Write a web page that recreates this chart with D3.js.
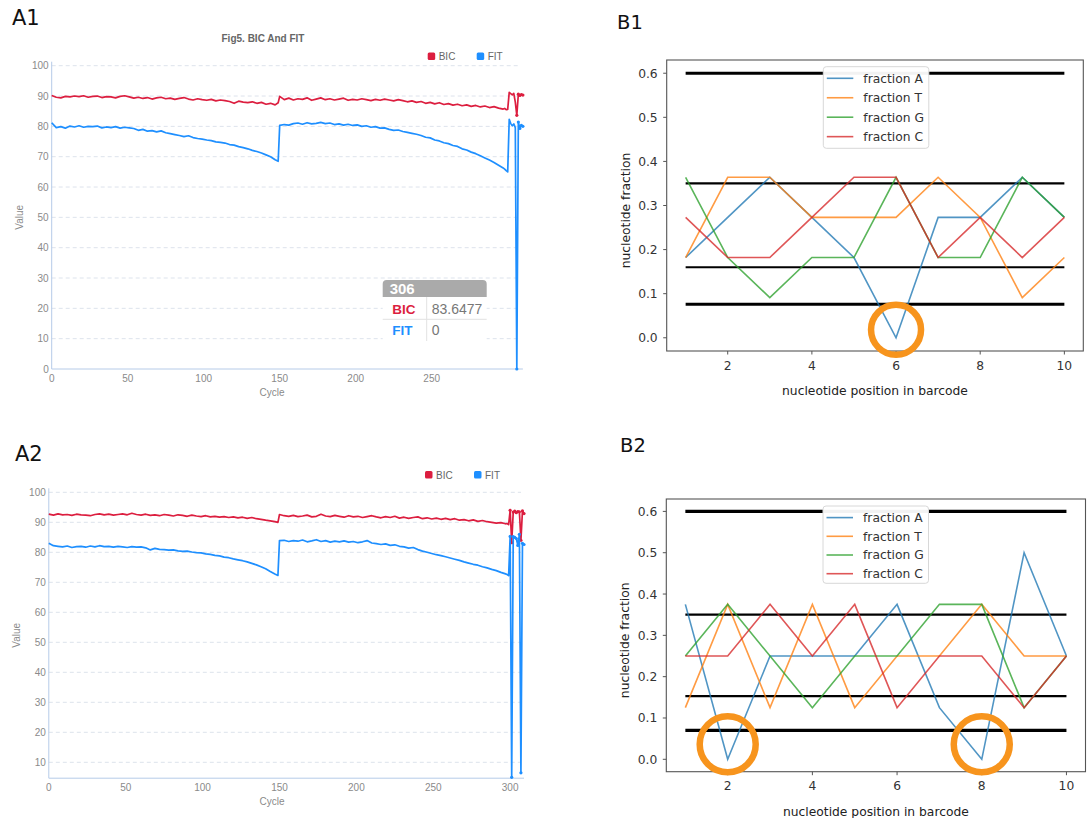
<!DOCTYPE html>
<html>
<head>
<meta charset="utf-8">
<script src="https://cdn.jsdelivr.net/npm/d3@7"></script>
<style>
  body { margin: 0; background: #fff; }
  svg { display: block; }
  .ech text { font-family: "Liberation Sans", Arial, sans-serif; }
  .mpl text { font-family: "DejaVu Sans", sans-serif; }
</style>
</head>
<body>
<div id="chart"></div>
<script>
// ---------- data: A panels (BIC / FIT per cycle) ----------
// cycles sampled every 3, plus the step at 149 and every cycle of the tail
const a1Cycles = [...d3.range(0, 148, 3), 149, ...d3.range(150, 298, 3), ...d3.range(298, 311)]
const a2Cycles = [...d3.range(0, 148, 3), 149, ...d3.range(150, 298, 3), ...d3.range(298, 310)]

const a1Bic = [
  90.2,89.6,89.4,89.9,89.7,90.0,89.8,90.1,89.6,89.9,
  90.0,89.5,89.8,89.7,89.4,89.9,90.1,89.7,89.3,89.6,
  89.2,89.5,89.0,89.4,89.6,89.1,89.3,88.9,89.2,89.5,
  89.0,88.7,89.1,88.8,88.6,88.9,88.4,88.7,88.5,88.2,
  87.6,88.3,88.0,87.8,88.1,87.6,87.9,87.3,87.6,87.1,
  87.8,
  89.9,88.8,89.3,88.7,89.1,88.9,89.4,88.6,89.0,89.4,
  88.8,89.1,88.7,89.0,89.3,88.6,88.9,88.7,89.1,88.8,
  88.5,88.9,88.6,89.0,88.7,88.4,88.8,88.5,88.1,88.4,
  87.9,88.2,87.6,87.9,87.4,87.8,87.2,87.5,87.0,87.3,
  86.8,87.1,86.6,86.9,86.4,86.7,86.2,86.5,86.0,85.7,
  85.9,85.5,85.6,91.2,90.8,90.4,90.9,88.0,83.6477,90.6,90.2,90.5,90.3
]
const a1Fit = [
  81.2,79.6,79.9,79.4,80.1,79.8,80.2,79.7,80.0,79.9,
  80.1,79.5,79.8,79.6,79.9,79.4,79.7,79.5,79.3,78.7,
  79.0,78.4,78.6,78.2,78.5,77.9,77.6,77.3,77.0,76.6,
  76.9,76.3,76.0,75.8,75.5,75.3,74.9,74.7,74.5,74.0,
  73.8,73.3,73.0,72.6,72.1,71.7,71.2,70.6,70.0,69.0,
  68.5,
  80.3,80.6,80.4,80.9,81.1,80.7,81.2,80.8,81.0,81.3,
  80.9,81.1,80.6,80.8,80.4,80.7,80.3,80.5,80.0,80.2,
  79.7,79.9,79.4,79.5,79.0,78.7,78.8,78.3,78.0,77.7,
  77.4,77.0,76.4,76.2,75.5,75.2,74.6,74.3,73.7,73.4,
  72.6,72.2,71.5,71.0,70.3,69.6,68.9,68.1,67.2,66.3,
  65.9,65.4,65.0,82.3,80.9,80.2,80.8,79.6,0,81.4,79.3,80.3,80.0
]
const a2Bic = [
  92.7,92.4,92.8,92.5,92.6,92.3,92.7,92.5,92.4,92.2,
  92.6,92.8,92.5,92.7,92.4,92.6,92.8,92.5,93.0,92.6,
  92.4,92.7,92.3,92.5,92.2,92.6,92.4,92.1,92.5,92.3,
  92.0,92.4,92.1,91.9,92.2,91.8,92.0,91.7,91.9,91.6,
  91.8,91.5,91.7,91.3,91.6,91.2,91.0,90.7,90.5,90.2,
  90.0,
  92.6,92.2,92.0,92.3,91.9,92.1,92.4,91.8,92.0,92.7,
  92.1,91.9,92.3,92.0,91.7,92.2,91.8,92.0,91.6,91.9,
  92.2,91.8,91.5,91.9,91.6,92.0,91.4,91.7,91.3,91.6,
  91.8,91.2,91.5,91.1,91.4,91.0,91.3,90.9,91.2,90.7,
  90.9,90.5,90.8,90.3,90.6,90.2,90.0,89.7,89.9,89.5,
  89.6,89.2,94.0,83.2,93.4,93.7,93.2,93.6,93.5,84.0,93.8,92.9
]
const a2Fit = [
  83.0,82.2,82.0,81.8,82.1,81.6,81.9,82.0,81.7,82.1,
  81.8,82.2,81.9,82.0,81.7,82.0,81.8,81.6,81.9,81.7,
  81.8,81.5,80.8,81.3,81.0,80.9,80.7,80.8,80.5,80.3,
  80.4,80.1,79.9,79.8,79.5,79.3,79.0,78.8,78.4,78.2,
  77.8,77.5,77.2,76.8,76.3,75.8,75.2,74.5,73.6,72.8,
  72.3,
  83.9,84.0,83.6,83.9,83.7,84.1,83.5,83.8,84.2,83.6,
  83.9,83.4,83.7,83.5,83.8,83.4,83.6,83.2,83.5,83.9,
  83.1,82.9,82.6,82.8,82.3,82.5,82.0,81.8,81.4,81.6,
  80.9,80.4,80.0,79.6,79.2,78.9,78.5,78.1,77.7,77.3,
  76.8,76.4,76.0,75.7,75.2,74.8,74.3,73.9,73.3,72.8,
  72.6,72.2,85.3,5.0,85.2,85.0,84.6,82.3,86.0,6.5,83.0,82.6
]
const a1XTicks = [0, 50, 100, 150, 200, 250]
const a2XTicks = [0, 50, 100, 150, 200, 250, 300]
const a1YTicks = [0, 10, 20, 30, 40, 50, 60, 70, 80, 90, 100]
const a2YTicks = [10, 20, 30, 40, 50, 60, 70, 80, 90, 100]
const aSeries = ["BIC", "FIT"]

// tooltip shown on A1
const tipCycle = 306
const tipRows = [["BIC", "83.6477"], ["FIT", "0"]]

// ---------- data: B panels (nucleotide fraction per position) ----------
const positions = [1, 2, 3, 4, 5, 6, 7, 8, 9, 10]
const bNames = ["fraction A", "fraction T", "fraction G", "fraction C"]
const b1A = [0.182, 0.273, 0.364, 0.273, 0.182, 0.0, 0.273, 0.273, 0.364, 0.273]
const b1T = [0.182, 0.364, 0.364, 0.273, 0.273, 0.273, 0.364, 0.273, 0.091, 0.182]
const b1G = [0.364, 0.182, 0.091, 0.182, 0.182, 0.364, 0.182, 0.182, 0.364, 0.273]
const b1C = [0.273, 0.182, 0.182, 0.273, 0.364, 0.364, 0.182, 0.273, 0.182, 0.273]
const b2A = [0.375, 0.0, 0.25, 0.25, 0.25, 0.375, 0.125, 0.0, 0.5, 0.25]
const b2T = [0.125, 0.375, 0.125, 0.375, 0.125, 0.25, 0.25, 0.375, 0.25, 0.25]
const b2G = [0.25, 0.375, 0.25, 0.125, 0.25, 0.25, 0.375, 0.375, 0.125, 0.25]
const b2C = [0.25, 0.25, 0.375, 0.25, 0.375, 0.125, 0.25, 0.25, 0.125, 0.25]
const b1Thresholds = [0.6, 0.35, 0.16, 0.076]
const b2Thresholds = [0.6, 0.35, 0.153, 0.07]
const b1Circles = [6]      // positions circled (at fraction 0)
const b2Circles = [2, 8]
const bXTicks = [2, 4, 6, 8, 10]
const bYTicks = [0, 0.1, 0.2, 0.3, 0.4, 0.5, 0.6]

// -------------------

const W = 1091, H = 818
const svg = d3.select("#chart").append("svg").attr("width", W).attr("height", H)
svg.append("rect").attr("width", W).attr("height", H).attr("fill", "#fff")

const aColor = { BIC: "#dc1e3f", FIT: "#1e8fff" }
const axisBlue = "#b6cbe8"

function drawA(opt) {
  const g = svg.append("g").attr("class", "ech")
  const { x, y } = opt

  g.append("text").attr("x", opt.labelPos[0]).attr("y", opt.labelPos[1])
    .style("font-family", "DejaVu Sans").style("font-size", "21px").attr("fill", "#111").text(opt.label)

  if (opt.title) {
    g.append("text").attr("x", opt.title[0]).attr("y", opt.title[1]).attr("text-anchor", "middle")
      .style("font-size", "10px").style("font-weight", "bold").attr("fill", "#666").text("Fig5. BIC And FIT")
  }

  // legend
  aSeries.forEach((s, i) => {
    const lx = opt.legend[0] + i * 49, ly = opt.legend[1]
    g.append("rect").attr("x", lx).attr("y", ly - 4).attr("width", 7.5).attr("height", 7.5).attr("rx", 1.5)
      .attr("fill", aColor[s])
    g.append("text").attr("x", lx + 11).attr("y", ly + 3.5).style("font-size", "10px").attr("fill", "#666").text(s)
  })

  const [x0, x1] = x.range()
  const [y0, y1] = y.range()

  // grid
  g.append("g").selectAll("line").data(opt.yTicks.filter(t => t > y.domain()[0])).join("line")
    .attr("x1", x0).attr("x2", x1 - 3).attr("y1", d => y(d)).attr("y2", d => y(d))
    .attr("stroke", "#dde3ec").attr("stroke-dasharray", "4,3")

  // axes
  g.append("line").attr("x1", x0).attr("x2", x0).attr("y1", y0).attr("y2", y1 - 4).attr("stroke", axisBlue)
  g.append("line").attr("x1", x0).attr("x2", x1).attr("y1", y0).attr("y2", y0).attr("stroke", axisBlue)

  g.append("g").selectAll("text").data(opt.yTicks).join("text")
    .attr("x", x0 - 3).attr("y", d => y(d) + 3.5).attr("text-anchor", "end")
    .style("font-size", "10px").attr("fill", "#8a8a8a").text(d => d)
  g.append("g").selectAll("text").data(opt.xTicks).join("text")
    .attr("x", d => x(d)).attr("y", y0 + 13).attr("text-anchor", "middle")
    .style("font-size", "10px").attr("fill", "#8a8a8a").text(d => d)

  g.append("text").attr("x", opt.cycleX).attr("y", y0 + 27).attr("text-anchor", "middle")
    .style("font-size", "10px").attr("fill", "#8a8a8a").text("Cycle")
  g.append("text").attr("transform", `translate(${opt.vLabelX},${(y0 + y1) / 2}) rotate(-90)`)
    .attr("text-anchor", "middle").style("font-size", "10px").attr("fill", "#8a8a8a").text("Value")

  const line = d3.line().x(d => x(d[0])).y(d => y(d[1]))
  const series = { BIC: opt.bic, FIT: opt.fit }
  aSeries.forEach(s => {
    const pts = opt.cycles.map((c, i) => [c, series[s][i]])
    g.append("path").datum(pts).attr("d", line).attr("fill", "none")
      .attr("stroke", aColor[s]).attr("stroke-width", 1.7).attr("stroke-linejoin", "round")
    // symbols on the tail
    g.append("g").selectAll("circle").data(pts.filter(p => p[0] >= opt.dotFrom)).join("circle")
      .attr("cx", d => x(d[0])).attr("cy", d => y(d[1])).attr("r", 1.6).attr("fill", aColor[s])
  })
  return g
}

const a1 = drawA({
  label: "A1", labelPos: [12, 25], title: [263, 42], legend: [427.7, 56.4],
  x: d3.scaleLinear().domain([0, 310]).range([51.7, 522.9]),
  y: d3.scaleLinear().domain([0, 100]).range([369, 65.7]),
  cycles: a1Cycles, bic: a1Bic, fit: a1Fit, xTicks: a1XTicks, yTicks: a1YTicks,
  vLabelX: 23, cycleX: 272, dotFrom: 306
})

const a2 = drawA({
  label: "A2", labelPos: [15, 461], legend: [425, 475],
  x: d3.scaleLinear().domain([0, 309]).range([48.8, 524]),
  y: d3.scaleLinear().domain([4.7, 100]).range([778.2, 492.3]),
  cycles: a2Cycles, bic: a2Bic, fit: a2Fit, xTicks: a2XTicks, yTicks: a2YTicks,
  vLabelX: 20, cycleX: 272, dotFrom: 300
})

// tooltip on A1
{
  const tx = 382.7, ty = 280, tw = 104, hh = 17
  const tg = svg.append("g").attr("class", "ech")
  tg.append("rect").attr("x", tx).attr("y", ty + hh).attr("width", tw).attr("height", 45).attr("fill", "#fff")
  tg.append("path").attr("d", `M${tx},${ty + hh} V${ty + 4} q0,-4 4,-4 H${tx + tw - 4} q4,0 4,4 V${ty + hh} Z`)
    .attr("fill", "#aaaaaa")
  tg.append("text").attr("x", tx + 7).attr("y", ty + 14).style("font-size", "15px").style("font-weight", "bold")
    .attr("fill", "#fff").text(tipCycle)
  tg.append("line").attr("x1", tx).attr("x2", tx + tw).attr("y1", ty + 39.3).attr("y2", ty + 39.3).attr("stroke", "#e2e2e2")
  tg.append("line").attr("x1", tx + 44).attr("x2", tx + 44).attr("y1", ty + hh).attr("y2", ty + 61).attr("stroke", "#e2e2e2")
  tipRows.forEach((r, i) => {
    const by = ty + 33.5 + i * 21
    tg.append("text").attr("x", tx + 9.5).attr("y", by).style("font-size", "13.5px").style("font-weight", "bold")
      .attr("fill", aColor[r[0]]).text(r[0])
    tg.append("text").attr("x", tx + 49).attr("y", by).style("font-size", "14px").attr("fill", "#777").text(r[1])
  })
}

// ---------- B panels ----------
const bColor = ["#1f77b4", "#ff7f0e", "#2ca02c", "#d62728"]
const bFont = "12.3px"

function drawB(opt) {
  const g = svg.append("g").attr("class", "mpl")
  const { x, y } = opt
  const [x0, x1] = x.range()
  const [y0, y1] = y.range()

  g.append("text").attr("x", opt.labelPos[0]).attr("y", opt.labelPos[1])
    .style("font-size", "19.5px").attr("fill", "#111").text(opt.label)

  // threshold lines
  g.append("g").selectAll("line").data(opt.thresholds).join("line")
    .attr("x1", x(1)).attr("x2", x(10)).attr("y1", d => y(d)).attr("y2", d => y(d))
    .attr("stroke", "#000").attr("stroke-width", (d, i) => (i === 0 || i === 3) ? 3.2 : 2.2)

  const line = d3.line().x((d, i) => x(positions[i])).y(d => y(d))
  opt.series.forEach((s, k) => {
    g.append("path").datum(s).attr("d", line).attr("fill", "none")
      .attr("stroke", bColor[k]).attr("stroke-width", 1.6).attr("stroke-opacity", 0.78)
  })

  // frame
  g.append("rect").attr("x", x0).attr("y", y1).attr("width", x1 - x0).attr("height", y0 - y1)
    .attr("fill", "none").attr("stroke", "#555").attr("stroke-width", 1.1)

  // ticks
  g.append("g").selectAll("line").data(bXTicks).join("line")
    .attr("x1", d => x(d)).attr("x2", d => x(d)).attr("y1", y0).attr("y2", y0 + 3.5).attr("stroke", "#555")
  g.append("g").selectAll("text").data(bXTicks).join("text")
    .attr("x", d => x(d)).attr("y", y0 + 18.5).attr("text-anchor", "middle")
    .style("font-size", bFont).attr("fill", "#333").text(d => d)
  g.append("g").selectAll("line").data(bYTicks).join("line")
    .attr("x1", x0 - 3.5).attr("x2", x0).attr("y1", d => y(d)).attr("y2", d => y(d)).attr("stroke", "#555")
  g.append("g").selectAll("text").data(bYTicks).join("text")
    .attr("x", x0 - 9).attr("y", d => y(d) + 4.5).attr("text-anchor", "end")
    .style("font-size", bFont).attr("fill", "#333").text(d => d.toFixed(1))

  g.append("text").attr("x", (x0 + x1) / 2).attr("y", y0 + 44).attr("text-anchor", "middle")
    .style("font-size", bFont).attr("fill", "#222").text("nucleotide position in barcode")
  g.append("text").attr("transform", `translate(${x0 - 37},${(y0 + y1) / 2 + 5}) rotate(-90)`)
    .attr("text-anchor", "middle").style("font-size", bFont).attr("fill", "#222").text("nucleotide fraction")

  // legend
  const [lx, ly, lh, step] = opt.legend
  g.append("rect").attr("x", lx).attr("y", ly).attr("width", 105.5).attr("height", lh).attr("rx", 3)
    .attr("fill", "#fff").attr("fill-opacity", 0.95).attr("stroke", "#d8d8d8")
  bNames.forEach((n, k) => {
    const ey = ly + 11.6 + k * step
    g.append("line").attr("x1", lx + 3.5).attr("x2", lx + 30).attr("y1", ey).attr("y2", ey)
      .attr("stroke", bColor[k]).attr("stroke-width", 1.6).attr("stroke-opacity", 0.78)
    g.append("text").attr("x", lx + 40).attr("y", ey + 4.4).style("font-size", bFont).attr("fill", "#333").text(n)
  })

  // highlight circles
  g.append("g").selectAll("circle").data(opt.circles).join("circle")
    .attr("cx", d => x(d)).attr("cy", y(0) - opt.circleDy).attr("r", opt.circleR)
    .attr("fill", "none").attr("stroke", "#f7941d").attr("stroke-width", 6.5)
}

drawB({
  label: "B1", labelPos: [617, 29],
  x: d3.scaleLinear().domain([0.55, 10.45]).range([666.7, 1083.3]),
  y: d3.scaleLinear().domain([-0.03, 0.63]).range([351, 60]),
  series: [b1A, b1T, b1G, b1C], thresholds: b1Thresholds, circles: b1Circles,
  legend: [823.3, 66.7, 81.6, 19.45], circleR: 25, circleDy: 8
})

drawB({
  label: "B2", labelPos: [620, 452],
  x: d3.scaleLinear().domain([0.55, 10.45]).range([666.3, 1085.5]),
  y: d3.scaleLinear().domain([-0.03, 0.63]).range([771.7, 499]),
  series: [b2A, b2T, b2G, b2C], thresholds: b2Thresholds, circles: b2Circles,
  legend: [823, 506, 77.3, 18.7], circleR: 28, circleDy: 15
})
</script>
</body>
</html>
